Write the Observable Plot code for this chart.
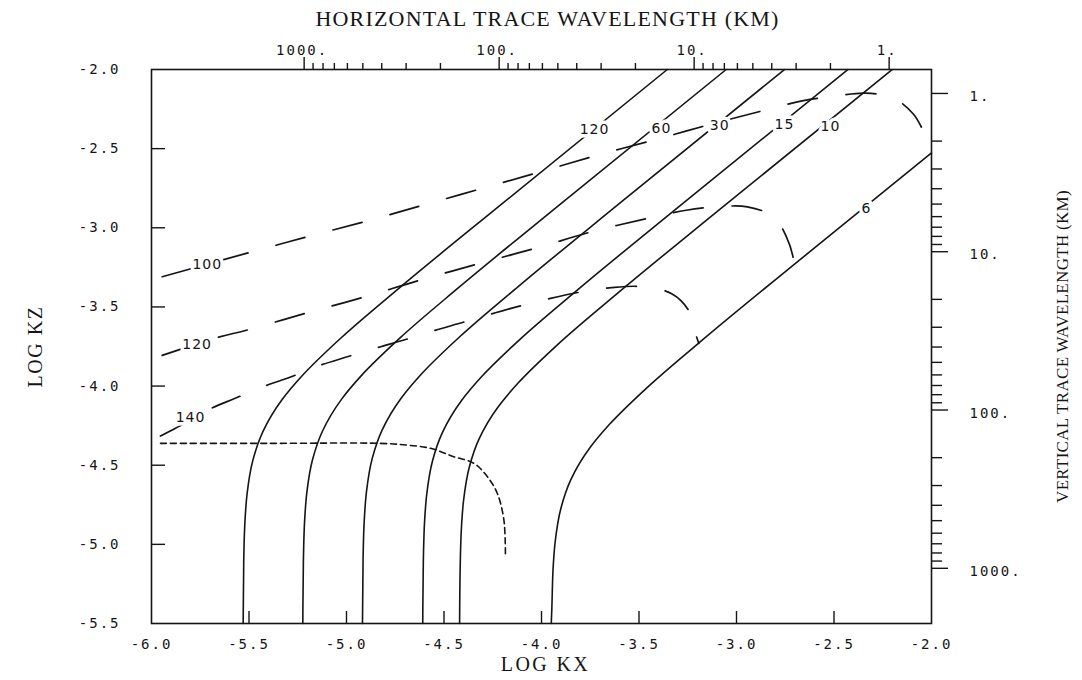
<!DOCTYPE html>
<html>
<head>
<meta charset="utf-8">
<script src="https://cdn.jsdelivr.net/npm/d3@7"></script>
<script src="https://cdn.jsdelivr.net/npm/@observablehq/plot@0.6"></script>
<style>
  html, body { margin: 0; padding: 0; background: #fff; }
  #chart svg { display: block; }
</style>
</head>
<body>
<div id="chart"></div>
<script>
// ---- Wave period curves (minutes): [log kx, log kz] pairs, bottom to top ----
const periodLabels = ["120", "60", "30", "15", "10", "6"];
const period120 = [[-5.530,-5.500],[-5.527,-5.103],[-5.520,-4.838],[-5.510,-4.683],[-5.480,-4.468],[-5.430,-4.291],[-5.330,-4.085],[-5.230,-3.938],[-5.030,-3.698],[-4.730,-3.381],[-4.200,-2.846],[-3.355,-2.000]];
const period60  = [[-5.224,-5.500],[-5.221,-5.099],[-5.214,-4.834],[-5.204,-4.679],[-5.174,-4.464],[-5.124,-4.287],[-5.024,-4.081],[-4.924,-3.934],[-4.724,-3.694],[-4.424,-3.377],[-3.900,-2.847],[-3.053,-2.000]];
const period30  = [[-4.918,-5.500],[-4.915,-5.092],[-4.908,-4.827],[-4.898,-4.672],[-4.868,-4.457],[-4.818,-4.280],[-4.718,-4.074],[-4.618,-3.927],[-4.418,-3.687],[-4.118,-3.370],[-3.600,-2.846],[-2.754,-2.000]];
const period15  = [[-4.609,-5.500],[-4.606,-5.108],[-4.599,-4.843],[-4.589,-4.688],[-4.559,-4.473],[-4.509,-4.296],[-4.409,-4.090],[-4.309,-3.943],[-4.109,-3.703],[-3.809,-3.386],[-3.300,-2.871],[-2.429,-2.000]];
const period10  = [[-4.420,-5.500],[-4.417,-5.146],[-4.410,-4.881],[-4.400,-4.726],[-4.370,-4.511],[-4.320,-4.334],[-4.220,-4.128],[-4.120,-3.981],[-3.920,-3.741],[-3.620,-3.424],[-3.100,-2.898],[-2.202,-2.000]];
const period6   = [[-3.950,-5.500],[-3.947,-5.405],[-3.940,-5.140],[-3.930,-4.985],[-3.900,-4.770],[-3.850,-4.593],[-3.750,-4.387],[-3.650,-4.240],[-3.450,-4.000],[-3.150,-3.683],[-2.600,-3.127],[-2.000,-2.527]];
const periodCurves = [period120, period60, period30, period15, period10, period6];
const periodLabelX = [-3.728, -3.385, -3.086, -2.754, -2.518, -2.333];
const periodLabelY = [-2.378, -2.376, -2.354, -2.348, -2.359, -2.881];

// ---- Altitude curves (km), long dashes ----
const altitudeLabels = ["100", "120", "140"];
const altitude100 = [[-5.945,-3.309],[-5.503,-3.158],[-5.202,-3.057],[-4.894,-2.957],[-4.604,-2.856],[-4.304,-2.751],[-4.005,-2.646],[-3.713,-2.541],[-3.412,-2.442],[-3.150,-2.352],[-2.877,-2.264],[-2.657,-2.197],[-2.503,-2.170],[-2.338,-2.149],[-2.195,-2.181],[-2.092,-2.283],[-2.030,-2.420]];
const altitude120 = [[-5.945,-3.806],[-5.656,-3.691],[-5.518,-3.649],[-5.210,-3.540],[-4.914,-3.439],[-4.621,-3.330],[-4.316,-3.225],[-4.019,-3.125],[-3.728,-3.020],[-3.419,-2.931],[-3.258,-2.889],[-3.104,-2.868],[-2.944,-2.868],[-2.809,-2.931],[-2.744,-3.057],[-2.709,-3.191],[-2.708,-3.227]];
const altitude140 = [[-5.954,-4.316],[-5.877,-4.267],[-5.706,-4.148],[-5.574,-4.079],[-5.432,-4.006],[-5.287,-3.943],[-5.150,-3.875],[-4.996,-3.815],[-4.843,-3.758],[-4.689,-3.703],[-4.552,-3.650],[-4.402,-3.597],[-4.236,-3.537],[-4.104,-3.492],[-3.954,-3.446],[-3.809,-3.408],[-3.641,-3.378],[-3.484,-3.372],[-3.330,-3.418],[-3.245,-3.523],[-3.210,-3.670],[-3.193,-3.731]];
const altitudeCurves = [altitude100, altitude120, altitude140];
const altitudeLabelX = [-5.714, -5.766, -5.800];
const altitudeLabelY = [-3.233, -3.737, -4.198];

// ---- Short-dash boundary curve ----
const boundaryCurve = [[-5.954,-4.362],[-5.400,-4.362],[-4.826,-4.362],[-4.689,-4.373],[-4.569,-4.393],[-4.450,-4.446],[-4.347,-4.488],[-4.278,-4.572],[-4.227,-4.677],[-4.193,-4.845],[-4.185,-5.065]];

// ---- Axis ticks and labels ----
const logKxTicks = [-6.0, -5.5, -5.0, -4.5, -4.0, -3.5, -3.0, -2.5, -2.0];
const logKxTickLabels = ["-6.0", "-5.5", "-5.0", "-4.5", "-4.0", "-3.5", "-3.0", "-2.5", "-2.0"];
const logKzTicks = [-2.0, -2.5, -3.0, -3.5, -4.0, -4.5, -5.0, -5.5];
const logKzTickLabels = ["-2.0", "-2.5", "-3.0", "-3.5", "-4.0", "-4.5", "-5.0", "-5.5"];
const horizMajorKm = [1000, 100, 10, 1];
const horizMajorLabels = ["1000.", "100.", "10.", "1."];
const horizMinorKm = [900, 800, 700, 600, 500, 400, 300, 200, 90, 80, 70, 60, 50, 40, 30, 20, 9, 8, 7, 6, 5, 4, 3, 2];
const vertMajorKm = [1, 10, 100, 1000];
const vertMajorLabels = ["1.", "10.", "100.", "1000."];
const vertMinorKm = [2, 3, 4, 5, 6, 7, 8, 9, 20, 30, 40, 50, 60, 70, 80, 90, 200, 300, 400, 500, 600, 700, 800, 900];

const titleTop = "HORIZONTAL TRACE WAVELENGTH (KM)";
const titleBottom = "LOG KX";
const titleLeft = "LOG KZ";
const titleRight = "VERTICAL TRACE WAVELENGTH (KM)";

// wavelength (km) -> log10 wavenumber (1/m)
const kmToLogK = km => Math.log10(2 * Math.PI / (km * 1000));

const toRows = (curves, names) =>
  curves.flatMap((pts, i) => pts.map(([x, y]) => ({x, y, series: names[i]})));

const periodRows = toRows(periodCurves, periodLabels);
const altitudeRows = toRows(altitudeCurves, altitudeLabels);
const boundaryRows = boundaryCurve.map(([x, y]) => ({x, y}));

const ink = "#151515";
const mono = "DejaVu Sans Mono";
const serif = "Liberation Serif";

const innerKx = logKxTicks.slice(1, -1);
const innerKz = logKzTicks.slice(1, -1);

const tickText = {fontSize: 14, fontFamily: mono, fill: ink, lineAnchor: "middle"};
const curveText = {fontSize: 14, fontFamily: "DejaVu Sans", fill: ink, stroke: "#fff", strokeWidth: 7, lineAnchor: "middle"};

const svg = Plot.plot({
  width: 1082,
  height: 680,
  marginLeft: 151,
  marginRight: 151,
  marginTop: 69,
  marginBottom: 57,
  style: {background: "#fff", color: ink},
  x: {domain: [-6, -2]},
  y: {domain: [-5.5, -2]},
  marks: [
    // curves
    Plot.line(periodRows, {x: "x", y: "y", z: "series", curve: "monotone-y", stroke: ink, strokeWidth: 1.6}),
    Plot.line(altitudeRows, {x: "x", y: "y", z: "series", curve: "catmull-rom", stroke: ink, strokeWidth: 1.7, strokeDasharray: "30,29"}),
    Plot.line(boundaryRows, {x: "x", y: "y", curve: "catmull-rom", stroke: ink, strokeWidth: 1.6, strokeDasharray: "6,4"}),

    // curve labels with a white halo that opens a gap in the line
    Plot.text(periodLabels, {x: (d, i) => periodLabelX[i], y: (d, i) => periodLabelY[i], text: d => d, ...curveText}),
    Plot.text(altitudeLabels, {x: (d, i) => altitudeLabelX[i], y: (d, i) => altitudeLabelY[i], text: d => d, ...curveText}),

    Plot.frame({stroke: ink, strokeWidth: 1.6}),

    // inward ticks on the log axes
    Plot.axisY(innerKz, {anchor: "left", tickSize: 14, dx: 14, fill: "none", stroke: ink, strokeWidth: 1.4}),
    Plot.axisX(innerKx, {anchor: "bottom", tickSize: 12, dy: -12, fill: "none", stroke: ink, strokeWidth: 1.4}),

    // outward wavelength ticks
    Plot.axisX(horizMajorKm.map(kmToLogK), {anchor: "top", tickSize: 13, dx: -3, fill: "none", stroke: ink, strokeWidth: 1.4}),
    Plot.axisX(horizMinorKm.map(kmToLogK), {anchor: "top", tickSize: 7, dx: -3, fill: "none", stroke: ink, strokeWidth: 1.4}),
    Plot.axisY(vertMajorKm.map(kmToLogK), {anchor: "right", tickSize: 16, dy: -8, fill: "none", stroke: ink, strokeWidth: 1.4}),
    Plot.axisY(vertMinorKm.map(kmToLogK), {anchor: "right", tickSize: 10, dy: -8, fill: "none", stroke: ink, strokeWidth: 1.4}),

    // tick labels
    Plot.text(logKzTicks, {y: d => d, text: (d, i) => logKzTickLabels[i], frameAnchor: "left", dx: -31, textAnchor: "end", ...tickText}),
    Plot.text(logKxTicks, {x: d => d, text: (d, i) => logKxTickLabels[i], frameAnchor: "bottom", dy: 21, textAnchor: "middle", ...tickText}),
    Plot.text(horizMajorKm, {x: d => kmToLogK(d), text: (d, i) => horizMajorLabels[i], frameAnchor: "top", dy: -19, dx: -5, textAnchor: "middle", ...tickText}),
    Plot.text(vertMajorKm, {y: d => kmToLogK(d), text: (d, i) => vertMajorLabels[i], frameAnchor: "right", dx: 38, dy: -5,
      textAnchor: "start", ...tickText}),

    // axis titles
    Plot.text([titleTop], {text: d => d, frameAnchor: "top", dy: -51, dx: 6, textAnchor: "middle", lineAnchor: "middle",
      fontSize: 22, fontFamily: serif, fill: ink}),
    Plot.text([titleBottom], {text: d => d, frameAnchor: "bottom", dy: 41, dx: 4, textAnchor: "middle", lineAnchor: "middle",
      fontSize: 20, fontFamily: serif, fill: ink}),
    Plot.text([titleLeft], {text: d => d, frameAnchor: "left", dx: -116, rotate: -90, textAnchor: "middle", lineAnchor: "middle",
      fontSize: 20, fontFamily: serif, fill: ink}),
    Plot.text([titleRight], {text: d => d, frameAnchor: "right", dx: 131, rotate: -90, textAnchor: "middle", lineAnchor: "middle",
      fontSize: 17, fontFamily: serif, fill: ink})
  ]
});

// letter spacing for the plotter-style lettering
const spacing = new Map();
[...logKxTickLabels, ...logKzTickLabels, ...horizMajorLabels, ...vertMajorLabels].forEach(t => spacing.set(t, 2));
[...periodLabels, ...altitudeLabels].forEach(t => spacing.set(t, 1));
spacing.set(titleTop, 1.2);
spacing.set(titleBottom, 2.4);
spacing.set(titleLeft, 1.5);
spacing.set(titleRight, 0.3);
d3.select(svg).selectAll("text").each(function () {
  const s = spacing.get(this.textContent);
  if (s !== undefined) this.setAttribute("letter-spacing", s);
});

document.getElementById("chart").appendChild(svg);
</script>
</body>
</html>
